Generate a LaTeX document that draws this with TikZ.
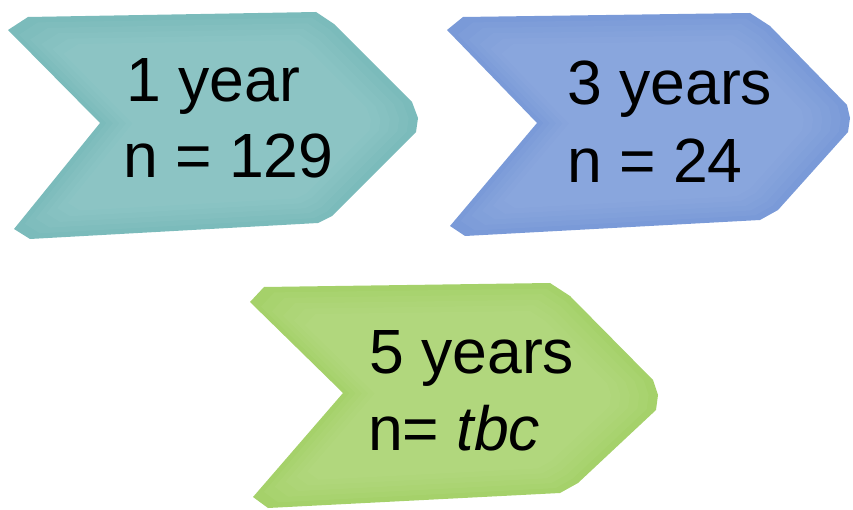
\documentclass[tikz,border=0pt]{standalone}
\usepackage{fontspec}
\setmainfont{Liberation Sans}
\definecolor{tealc}{HTML}{7BBBBB}
\definecolor{tealin}{HTML}{A2D3D2}
\definecolor{bluec}{HTML}{7A9AD8}
\definecolor{bluein}{HTML}{9EB6E8}
\definecolor{greenc}{HTML}{A5D16A}
\definecolor{greenin}{HTML}{C2E294}
\begin{document}
\begin{tikzpicture}[x=1pt,y=-1pt,
  lbl/.style={anchor=base west,inner sep=0pt,font=\fontsize{62.5}{72}\selectfont,text=black}]
\useasboundingbox (0,0) rectangle (853,510);
\def\tealpath{(8,30) -- (28,17) -- (316,12) -- (334,24) -- (412,102) -- (418,118) -- (416,132) -- (332,216) -- (318,223) -- (30,239) -- (14,229) -- (100,123) -- cycle}
\def\bluepath{(447,30) -- (463,17) -- (750,13) -- (770,26) -- (847,105) -- (850,118) -- (848,132) -- (778,210) -- (760,220) -- (465,236) -- (450,226) -- (537,123) -- cycle}
\def\greenpath{(250,302) -- (264,287) -- (550,283) -- (570,296) -- (653,380) -- (658,395) -- (656,410) -- (578,483) -- (560,493) -- (268,508) -- (253,497) -- (343,393) -- cycle}
% teal chevron
\fill[tealc] \tealpath;
\foreach \s in {0.95,0.9,0.85,0.8,0.75}{
  \fill[tealin,opacity=0.12,shift={(230,125)},scale=\s,shift={(-230,-125)}] \tealpath;}
% blue chevron
\fill[bluec] \bluepath;
\foreach \s in {0.95,0.9,0.85,0.8,0.75}{
  \fill[bluein,opacity=0.12,shift={(665,125)},scale=\s,shift={(-665,-125)}] \bluepath;}
% green chevron
\fill[greenc] \greenpath;
\foreach \s in {0.95,0.9,0.85,0.8,0.75}{
  \fill[greenin,opacity=0.12,shift={(470,395)},scale=\s,shift={(-470,-395)}] \greenpath;}
% labels
\node[lbl] (a1) at (126,102) {1 year};
\node[lbl] (a2) at (123,178) {n = 129};
\node[lbl] (b1) at (567,105) {3 years};
\node[lbl] (b2) at (567,183) {n = 24};
\node[lbl] (c1) at (369,373) {5 years};
\node[lbl] (c2) at (368,450) {n= \textit{tbc}};
\end{tikzpicture}
\end{document}
